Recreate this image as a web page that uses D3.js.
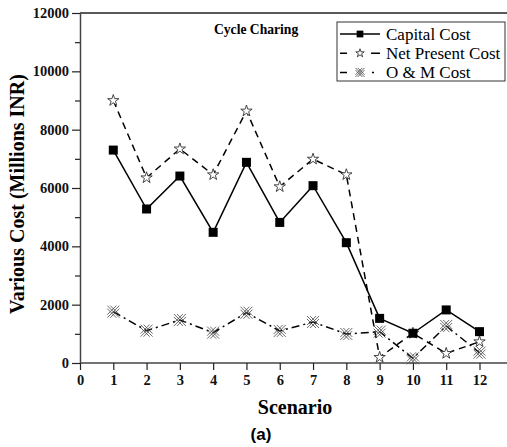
<!DOCTYPE html>
<html>
<head>
<meta charset="utf-8">
<script src="https://cdn.jsdelivr.net/npm/d3@7"></script>
<style>
  html, body { margin: 0; padding: 0; background: #fff; }
  svg { display: block; }
</style>
</head>
<body>
<svg id="chart" width="507" height="447"></svg>
<script>
// Scenario numbers and the three cost series (Millions INR)
const scenarios = [1, 2, 3, 4, 5, 6, 7, 8, 9, 10, 11, 12];
const capitalCost = [7300, 5280, 6410, 4480, 6880, 4820, 6080, 4125, 1530, 1020, 1820, 1075];
const netPresentCost = [9000, 6350, 7340, 6455, 8640, 6045, 6990, 6455, 195, 1020, 330, 730];
const omCost = [1760, 1110, 1475, 1040, 1725, 1100, 1405, 995, 1075, 160, 1270, 355];
const xTicks = [0, 1, 2, 3, 4, 5, 6, 7, 8, 9, 10, 11, 12];
const yTicks = [0, 2000, 4000, 6000, 8000, 10000, 12000];
const seriesNames = ["Capital Cost", "Net Present Cost", "O & M Cost"];

const svg = d3.select("#chart");
const plotLeft = 80, plotTop = 13, plotBottom = 363;

const x = d3.scaleLinear().domain([0, 12]).range([plotLeft, 479.5]);
const y = d3.scaleLinear().domain([0, 12000]).range([plotBottom, plotTop]);

const serif = "'Liberation Serif', 'Times New Roman', serif";

// Top frame line
svg.append("line")
  .attr("x1", plotLeft).attr("x2", 507).attr("y1", plotTop).attr("y2", plotTop)
  .attr("stroke", "#222").attr("stroke-width", 1.5);

// Y axis with minor ticks
svg.append("g").attr("transform", `translate(${plotLeft},0)`)
  .call(d3.axisLeft(y).tickValues(yTicks).tickSize(8).tickPadding(3).tickSizeOuter(0).tickFormat(d3.format("d")));
svg.append("g").attr("transform", `translate(${plotLeft},0)`)
  .call(d3.axisLeft(y).tickValues(d3.range(1000, 12000, 2000)).tickSize(5).tickFormat(""))
  .call(g => g.select(".domain").remove());

// X axis
const xAxis = svg.append("g").attr("transform", `translate(0,${plotBottom})`)
  .call(d3.axisBottom(x).tickValues(xTicks).tickSize(7).tickPadding(5).tickSizeOuter(0).tickFormat(d3.format("d")));
xAxis.select(".domain").attr("d", `M${plotLeft},0H507`);

svg.selectAll(".domain").attr("stroke", "#444").attr("stroke-width", 1.5);
svg.selectAll(".tick line").attr("stroke", "#222").attr("stroke-width", 1.2);
svg.selectAll(".tick text")
  .style("font-family", serif).style("font-weight", "bold").style("font-size", "14.5px").attr("fill", "#111");

// Axis titles
svg.append("text")
  .attr("transform", `translate(24,${(plotTop + plotBottom) / 2 + 6}) rotate(-90)`)
  .attr("text-anchor", "middle")
  .style("font-family", serif).style("font-weight", "bold").style("font-size", "20px")
  .text("Various Cost (Millions INR)");
svg.append("text")
  .attr("x", 295).attr("y", 414).attr("text-anchor", "middle")
  .style("font-family", serif).style("font-weight", "bold").style("font-size", "20px")
  .text("Scenario");
svg.append("text")
  .attr("x", 261).attr("y", 440).attr("text-anchor", "middle")
  .style("font-family", "'Liberation Sans', Arial, sans-serif").style("font-weight", "bold").style("font-size", "17px")
  .text("(a)");

// Title inside plot
svg.append("text")
  .attr("x", 214).attr("y", 34)
  .style("font-family", serif).style("font-weight", "bold").style("font-size", "13.6px")
  .text("Cycle Charing");

// Marker drawers
function drawSquare(g, k = 1) {
  const h = 4.5 * k;
  g.append("rect").attr("x", -h).attr("y", -h).attr("width", 2 * h).attr("height", 2 * h).attr("fill", "#000");
}
function drawStar(g, k = 1) {
  g.append("path").attr("d", d3.symbol().type(d3.symbolStar).size(40 * k * k)())
    .attr("fill", "#fff").attr("stroke", "#333").attr("stroke-width", 0.9);
}
function drawCross(g, k = 1) {
  const s = 6 * k, o = 3 * k;
  g.append("path")
    .attr("d", `M${-s},${-s}L${s},${s}M${-s},${s}L${s},${-s}M${-s+o},${-s}L${s},${s-o}M${-s},${-s+o}L${s-o},${s}M${-s},${s-o}L${s-o},${-s}M${-s+o},${s}L${s},${-s+o}`)
    .attr("fill", "none").attr("stroke", "#444").attr("stroke-width", 0.8);
}

const series = [
  { name: seriesNames[0], values: capitalCost, dash: null, marker: drawSquare, legendDash: null },
  { name: seriesNames[1], values: netPresentCost, dash: "7,5", marker: drawStar, legendDash: "7,24,9" },
  { name: seriesNames[2], values: omCost, dash: "8,4,2,4", marker: drawCross, legendDash: "7,25,2,20" }
];

const line = d3.line().x((d, i) => x(scenarios[i])).y(d => y(d));

series.forEach(s => {
  svg.append("path")
    .datum(s.values)
    .attr("d", line)
    .attr("fill", "none").attr("stroke", "#000").attr("stroke-width", 1.5)
    .attr("stroke-dasharray", s.dash);
});
series.slice().reverse().forEach(s => {
  s.values.forEach((v, i) => {
    const g = svg.append("g").attr("transform", `translate(${x(scenarios[i])},${y(v)})`);
    s.marker(g);
  });
});

// Legend
const legend = svg.append("g");
legend.append("rect")
  .attr("x", 337).attr("y", 22).attr("width", 168).attr("height", 59)
  .attr("fill", "#fff").attr("stroke", "#333").attr("stroke-width", 1);
series.forEach((s, i) => {
  const ly = 34 + i * 19.2;
  legend.append("line")
    .attr("x1", 340).attr("x2", 380).attr("y1", ly).attr("y2", ly)
    .attr("stroke", "#000").attr("stroke-width", 1.5)
    .attr("stroke-dasharray", s.legendDash);
  const g = legend.append("g").attr("transform", `translate(360,${ly})`);
  s.marker(g, 0.75);
  legend.append("text")
    .attr("x", 386).attr("y", ly + 6)
    .style("font-family", serif).style("font-size", "17px")
    .text(s.name);
});
</script>
</body>
</html>
